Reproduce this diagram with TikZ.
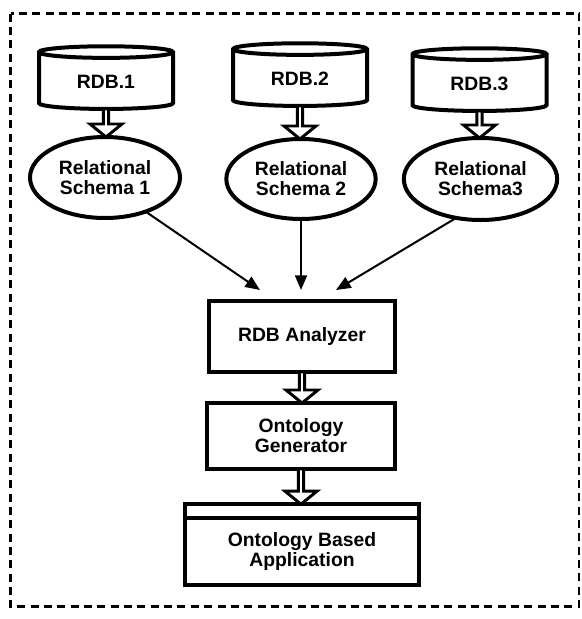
\documentclass[tikz,border=0pt]{standalone}
\usepackage{fontspec}
\setmainfont{Liberation Sans}
\usepackage{xcolor}
\usepackage{tikz}
\usetikzlibrary{shapes.geometric,arrows.meta,calc}

\tikzset{
 base/.style={draw, line width=3pt, align=center, inner sep=0pt, outer sep=0pt, font=\fontsize{14.5}{15}\selectfont\bfseries},
 db/.style={base, cylinder, shape border rotate=90, aspect=0.2, minimum width=100.5pt, minimum height=47pt},
 schema/.style={base, ellipse},
 box/.style={base, rectangle},
 link/.style={line width=1.5pt, -{Triangle[length=11pt,width=9pt]}},
 fatarr/.style={draw, line width=2.2pt, fill=white}
}
\newcommand{\fatarrow}[2]{%
 \draw[fatarr] let \p1=#1, \p2=#2 in
  (\x1-2pt,\y1) -- (\x1-2pt,\y2+9.75pt) -- (\x1-12pt,\y2+9.75pt) -- (\x1,\y2)
  -- (\x1+12pt,\y2+9.75pt) -- (\x1+2pt,\y2+9.75pt) -- (\x1+2pt,\y1) -- cycle;}

\begin{document}
\begin{tikzpicture}[x=0.75pt, y=-0.75pt]
\useasboundingbox (0,0) rectangle (582,619);
\draw[line width=2.2pt, dash pattern=on 6pt off 4pt] (10.5,13.5) rectangle (579,606.5);

\node[db] (r1) at (106,81.5) {RDB.1};
\node[db] (r2) at (300,78.5) {RDB.2};
\node[db] (r3) at (479.5,83.5) {RDB.3};

\node[schema, minimum width=112.5pt, minimum height=60.75pt] (s1) at (105,177.5) {Relational\\Schema 1};
\node[schema, minimum width=112pt, minimum height=60pt] (s2) at (301,179) {Relational\\Schema 2};
\node[schema, minimum width=115pt, minimum height=61.5pt] (s3) at (480.5,179) {Relational\\Schema3};

\node[box, minimum width=139.5pt, minimum height=53.25pt] (an) at (302,336.5) {RDB Analyzer};
\node[box, minimum width=141pt, minimum height=49.5pt] (og) at (301,436) {Ontology\\Generator};
\node[box, minimum width=175.5pt, minimum height=50pt] (app) at (302,551.5) {Ontology Based\\Application};
\node[box, minimum width=175.5pt, minimum height=10.5pt, anchor=south] (band) at (app.north) {};

\fatarrow{(r1.south)}{(s1.north)}
\fatarrow{(r2.south)}{(s2.north)}
\fatarrow{(r3.south)}{(s3.north)}
\fatarrow{(an.south)}{(og.north)}
\fatarrow{(og.south)}{(band.north)}

\draw[link] (s1.320) -- ([xshift=-31.5pt,yshift=8.25pt]an.north);
\draw[link] (s2.south) -- ([yshift=8.25pt]s2.south |- an.north);
\draw[link] (s3.238) -- ([xshift=25.5pt,yshift=8.25pt]an.north);
\end{tikzpicture}
\end{document}
